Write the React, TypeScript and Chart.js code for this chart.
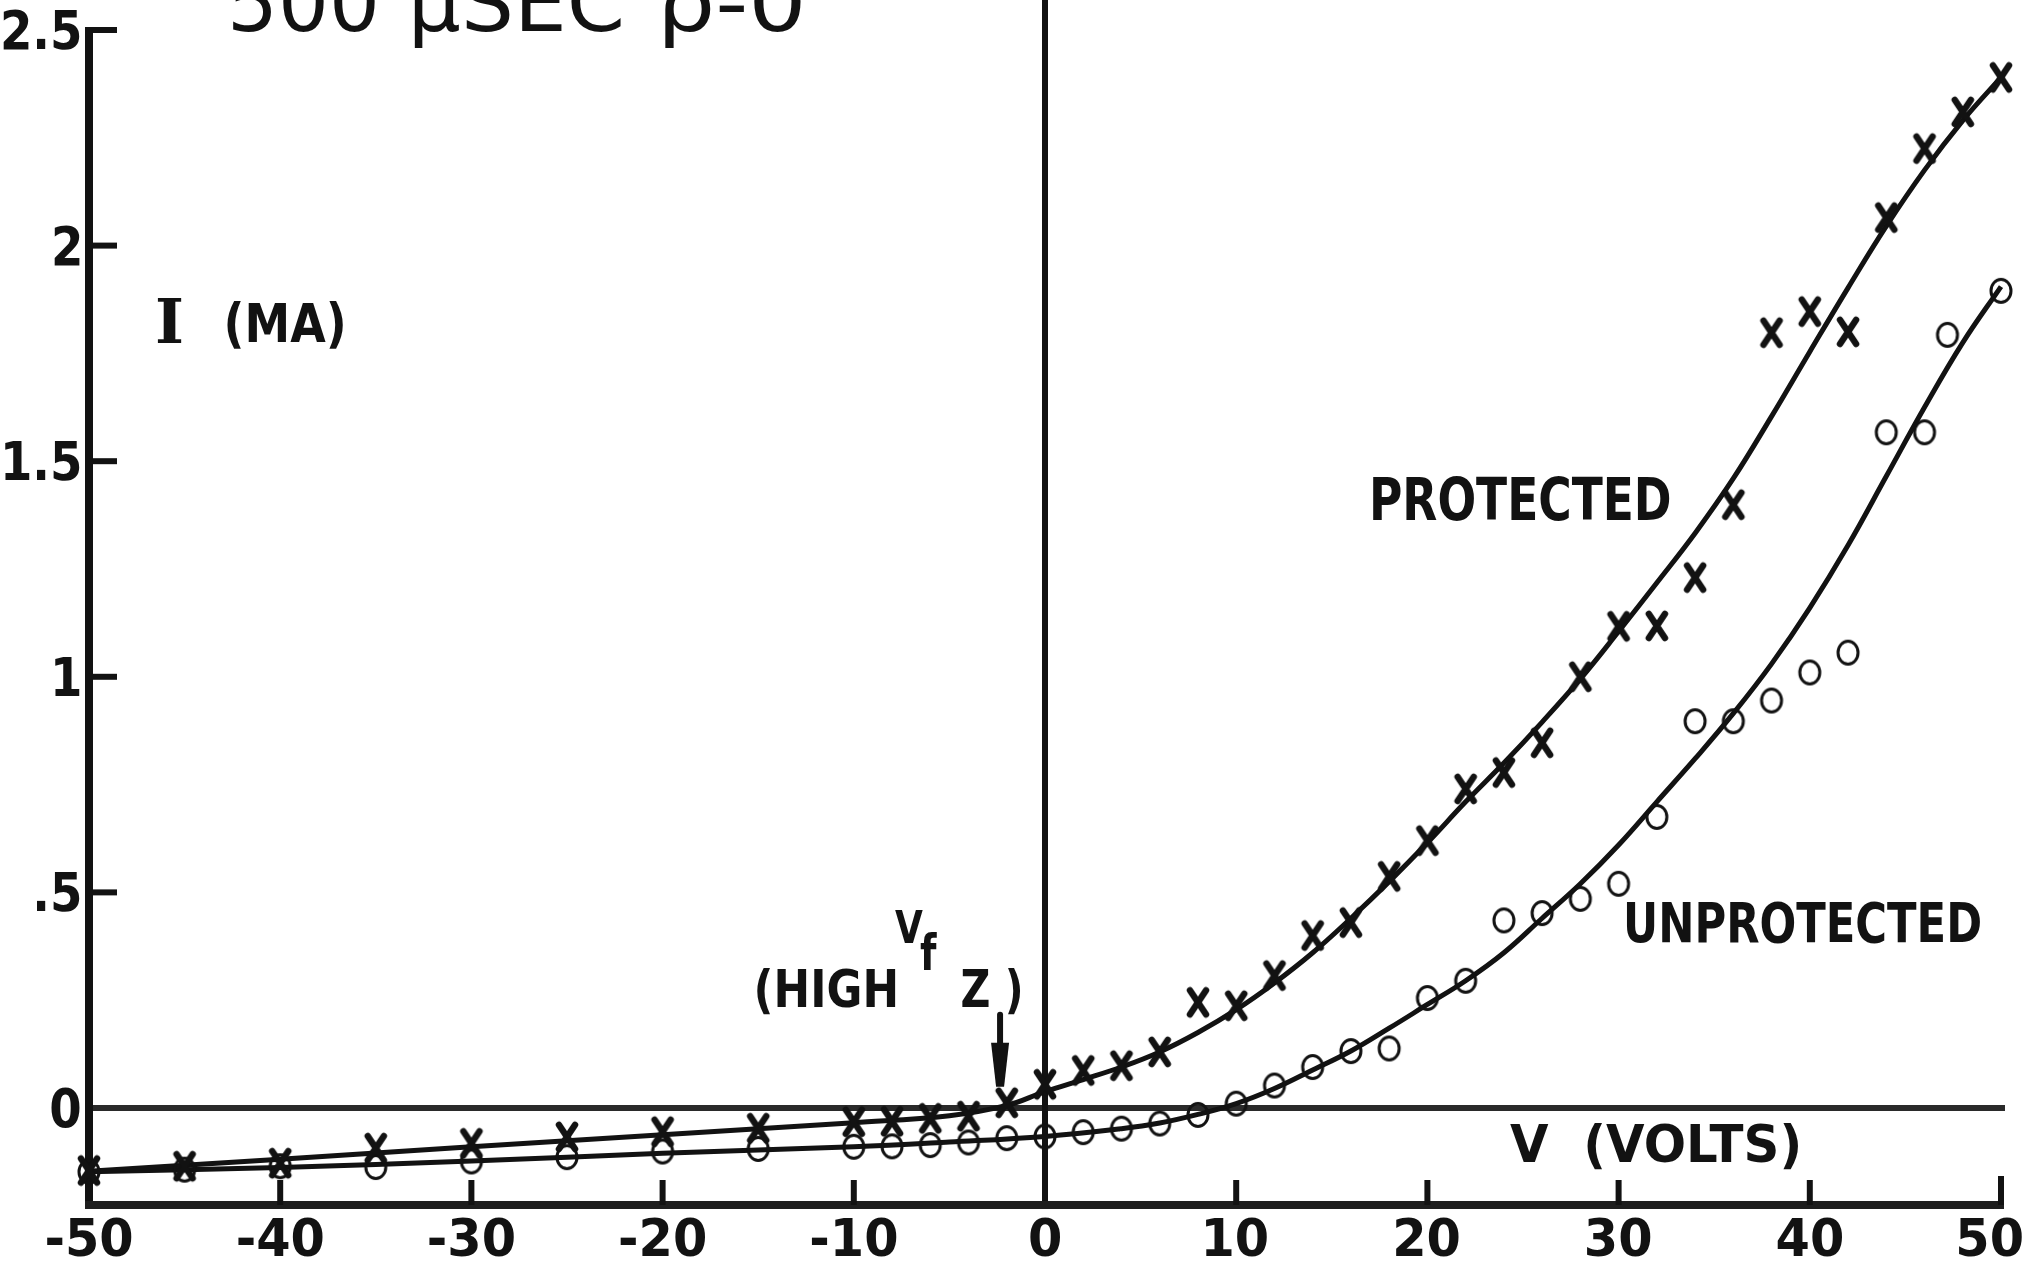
import React, { useEffect, useRef } from "react";
import { Chart, registerables } from "chart.js";

Chart.register(...registerables);

// ---------- data ----------
const xTickValues = [-50, -40, -30, -20, -10, 0, 10, 20, 30, 40, 50];
const xTickLabels = ["-50", "-40", "-30", "-20", "-10", "0", "10", "20", "30", "40", "50"];
const yTickValues = [0, 0.5, 1, 1.5, 2, 2.5];
const yTickLabels = ["0", ".5", "1", "1.5", "2", "2.5"];

const protectedVolts = [
  -50, -45, -40, -35, -30, -25, -20, -15, -10, -8, -6, -4, -2, 0, 2, 4, 6, 8, 10, 12,
  14, 16, 18, 20, 22, 24, 26, 28, 30, 32, 34, 36, 38, 40, 42, 44, 46, 48, 50,
];
const protectedCurrent = [
  -0.145, -0.135, -0.128, -0.093, -0.082, -0.067, -0.055, -0.047, -0.032, -0.031,
  -0.024, -0.019, 0.012, 0.055, 0.087, 0.098, 0.13, 0.245, 0.237, 0.307,
  0.4, 0.43, 0.537, 0.62, 0.74, 0.778, 0.847, 1.0, 1.117, 1.118,
  1.23, 1.399, 1.798, 1.847, 1.8, 2.065, 2.225, 2.31, 2.39,
];
const unprotectedVolts = [
  -50, -45, -40, -35, -30, -25, -20, -15, -10, -8, -6, -4, -2, 0, 2, 4, 6, 8, 10, 12,
  14, 16, 18, 20, 22, 24, 26, 28, 30, 32, 34, 36, 38, 40, 42, 44, 46, 47.2, 50,
];
const unprotectedCurrent = [
  -0.148, -0.143, -0.135, -0.137, -0.124, -0.114, -0.101, -0.095, -0.09, -0.089,
  -0.086, -0.08, -0.07, -0.066, -0.056, -0.048, -0.036, -0.016, 0.01, 0.052,
  0.095, 0.132, 0.138, 0.255, 0.295, 0.435, 0.452, 0.485, 0.52, 0.675,
  0.897, 0.897, 0.945, 1.01, 1.056, 1.567, 1.567, 1.793, 1.895,
];

// hand-drawn fitted curves
const protectedFitVolts = [
  -50, -40, -30, -20, -10, -5, -2, 0, 2, 4, 6, 8, 10, 12, 14, 16, 18, 20, 22, 24, 26, 28,
  30, 32, 34, 36, 38, 40, 42, 44, 46, 48, 50,
];
const protectedFitCurrent = [
  -0.147, -0.119, -0.09, -0.062, -0.034, -0.018, 0.006, 0.038, 0.066, 0.095, 0.13, 0.175,
  0.228, 0.29, 0.36, 0.44, 0.525, 0.615, 0.71, 0.8, 0.895, 0.995, 1.105, 1.218, 1.333,
  1.46, 1.604, 1.754, 1.902, 2.045, 2.175, 2.29, 2.39,
];
const unprotectedFitVolts = [
  -50, -40, -30, -20, -10, -5, 0, 4, 6, 8, 10, 12, 14, 16, 18, 20, 22, 24, 26, 28, 30, 32,
  34, 36, 38, 40, 42, 44, 46, 48, 50,
];
const unprotectedFitCurrent = [
  -0.148, -0.138, -0.123, -0.105, -0.09, -0.079, -0.066, -0.048, -0.035, -0.015, 0.01,
  0.045, 0.088, 0.132, 0.185, 0.24, 0.295, 0.36, 0.44, 0.52, 0.61, 0.71, 0.81, 0.915, 1.03,
  1.16, 1.305, 1.465, 1.625, 1.775, 1.905,
];

// ---------- styling / layout ----------
const W = 2026;
const H = 1266;
const INK = "#121212";
const SANS = "'DejaVu Sans', 'Liberation Sans', sans-serif";
const SERIF = "'DejaVu Serif', 'Liberation Serif', serif";

type Label = {
  text: string;
  v: number; // anchor in data units: left edge
  i: number; // anchor in data units: baseline
  size: number;
  width: number;
  family?: string;
  weight?: string;
};

const labels: Label[] = [
  { text: "PROTECTED", v: 17.15, i: 1.364, size: 58, width: 297 },
  { text: "UNPROTECTED", v: 30.44, i: 0.385, size: 55, width: 353 },
  { text: "V  (VOLTS)", v: 24.32, i: -0.125, size: 51, width: 288 },
  { text: "I", v: -46.44, i: 1.775, size: 62, width: 25, family: SERIF },
  { text: "(MA)", v: -42.78, i: 1.777, size: 53, width: 116 },
  { text: "(HIGH", v: -15.06, i: 0.234, size: 51, width: 138 },
  { text: "Z )", v: -4.34, i: 0.234, size: 51, width: 58 },
  { text: "V", v: -7.85, i: 0.383, size: 45, width: 28 },
  { text: "f", v: -6.54, i: 0.32, size: 49, width: 17 },
  { text: "500", v: -42.47, i: 2.497, size: 80, width: 142, weight: "normal" },
  { text: "μSEC", v: -33.0, i: 2.497, size: 80, width: 207, weight: "normal" },
  { text: "ρ-0", v: -19.87, i: 2.497, size: 80, width: 136, weight: "normal" },
];

const arrow = { v: -2.35, from: 0.216, to: 0.049 };

function drawFitted(
  ctx: CanvasRenderingContext2D,
  text: string,
  font: string,
  left: number,
  baseline: number,
  width: number
) {
  ctx.save();
  ctx.font = font;
  ctx.textAlign = "left";
  ctx.textBaseline = "alphabetic";
  const m = ctx.measureText(text);
  const w = m.actualBoundingBoxRight + m.actualBoundingBoxLeft;
  const sx = width / w;
  ctx.translate(left, baseline);
  ctx.scale(sx, 1);
  ctx.fillStyle = INK;
  ctx.fillText(text, m.actualBoundingBoxLeft, 0);
  ctx.restore();
}

function drawScaled(
  ctx: CanvasRenderingContext2D,
  text: string,
  font: string,
  cx: number,
  baseline: number,
  sx: number,
  align: "center" | "right",
  maxRight: number
) {
  ctx.save();
  ctx.font = font;
  ctx.textAlign = "left";
  const m = ctx.measureText(text);
  const w = (m.actualBoundingBoxRight + m.actualBoundingBoxLeft) * sx;
  let left = align === "center" ? cx - w / 2 : cx - w;
  if (left + w > maxRight) left = maxRight - w;
  ctx.translate(left, baseline);
  ctx.scale(sx, 1);
  ctx.fillStyle = INK;
  ctx.fillText(text, m.actualBoundingBoxLeft, 0);
  ctx.restore();
}

const framePlugin = {
  id: "frame",
  beforeDatasetsDraw(chart: any) {
    const { ctx } = chart;
    const xs = chart.scales.x;
    const ys = chart.scales.y;
    const xL = xs.getPixelForValue(xs.min);
    const xR = xs.getPixelForValue(xs.max);
    const yB = ys.getPixelForValue(ys.min);
    const yT = ys.getPixelForValue(2.5);
    const y0 = ys.getPixelForValue(0);
    const x0 = xs.getPixelForValue(0);
    ctx.save();
    ctx.lineCap = "butt";
    // zero current line
    ctx.strokeStyle = "#2a2a2a";
    ctx.lineWidth = 6;
    ctx.beginPath();
    ctx.moveTo(xL, y0);
    ctx.lineTo(xR + 4, y0);
    ctx.stroke();
    // zero voltage line
    ctx.strokeStyle = INK;
    ctx.lineWidth = 6;
    ctx.beginPath();
    ctx.moveTo(x0, 0);
    ctx.lineTo(x0, yB);
    ctx.stroke();
    // y axis
    ctx.lineWidth = 8;
    ctx.beginPath();
    ctx.moveTo(xL, yT - 3);
    ctx.lineTo(xL, yB + 3);
    ctx.stroke();
    // y ticks (inside)
    ctx.lineWidth = 6;
    yTickValues.forEach((v) => {
      if (v === 0) return;
      const y = ys.getPixelForValue(v);
      ctx.beginPath();
      ctx.moveTo(xL, y);
      ctx.lineTo(xL + 28, y);
      ctx.stroke();
    });
    // bottom axis
    ctx.strokeStyle = "#1e1e1e";
    ctx.lineWidth = 8;
    ctx.beginPath();
    ctx.moveTo(xL - 4, yB);
    ctx.lineTo(xR + 3, yB);
    ctx.stroke();
    // x ticks (inside)
    ctx.strokeStyle = INK;
    ctx.lineWidth = 6;
    xTickValues.forEach((v) => {
      if (v === xs.min || v === 0) return;
      const x = xs.getPixelForValue(v);
      ctx.beginPath();
      ctx.moveTo(x, yB);
      ctx.lineTo(x, yB - (v === xs.max ? 29 : 25));
      ctx.stroke();
    });
    ctx.restore();
  },
  afterDraw(chart: any) {
    const { ctx } = chart;
    const xs = chart.scales.x;
    const ys = chart.scales.y;
    const xL = xs.getPixelForValue(xs.min);
    const yB = ys.getPixelForValue(ys.min);
    // y tick labels
    yTickValues.forEach((v, k) => {
      const y = ys.getPixelForValue(v);
      drawScaled(ctx, yTickLabels[k], `bold 53px ${SANS}`, xL - 9, y + 19, 0.88, "right", W);
    });
    // x tick labels
    xTickValues.forEach((v, k) => {
      const x = xs.getPixelForValue(v);
      drawScaled(ctx, xTickLabels[k], `bold 52px ${SANS}`, x, yB + 51, 0.95, "center", W - 4);
    });
    // annotations
    labels.forEach((l) => {
      const font = `${l.weight || "bold"} ${l.size}px ${l.family || SANS}`;
      drawFitted(ctx, l.text, font, xs.getPixelForValue(l.v), ys.getPixelForValue(l.i), l.width);
    });
    // arrow
    const ax = xs.getPixelForValue(arrow.v);
    const a0 = ys.getPixelForValue(arrow.from);
    const a1 = ys.getPixelForValue(arrow.to);
    const headTop = a1 - 44;
    ctx.save();
    ctx.strokeStyle = INK;
    ctx.fillStyle = INK;
    ctx.lineWidth = 6;
    ctx.lineCap = "round";
    ctx.beginPath();
    ctx.moveTo(ax, a0);
    ctx.lineTo(ax, headTop + 2);
    ctx.stroke();
    ctx.beginPath();
    ctx.moveTo(ax - 9, headTop);
    ctx.lineTo(ax + 9, headTop);
    ctx.lineTo(ax + 4, a1);
    ctx.lineTo(ax - 4, a1);
    ctx.closePath();
    ctx.fill();
    ctx.restore();
  },
};

function makeCross(): HTMLCanvasElement {
  const c = document.createElement("canvas");
  c.width = 30;
  c.height = 36;
  const g = c.getContext("2d")!;
  g.strokeStyle = INK;
  g.lineWidth = 6.5;
  g.lineCap = "round";
  g.beginPath();
  g.moveTo(7, 6);
  g.lineTo(23, 30);
  g.moveTo(23, 6);
  g.lineTo(7, 30);
  g.stroke();
  return c;
}

function makeRing(): HTMLCanvasElement {
  const c = document.createElement("canvas");
  c.width = 28;
  c.height = 30;
  const g = c.getContext("2d")!;
  g.strokeStyle = INK;
  g.lineWidth = 3;
  g.beginPath();
  g.ellipse(14, 15, 10, 11.5, 0, 0, Math.PI * 2);
  g.stroke();
  return c;
}

export default function App() {
  const ref = useRef<HTMLCanvasElement | null>(null);

  useEffect(() => {
    document.body.style.margin = "0";
    document.body.style.background = "#ffffff";
    const canvas = ref.current;
    if (!canvas) return;
    const cross = makeCross();
    const ring = makeRing();
    const pts = (xs: number[], ys: number[]) => xs.map((x, k) => ({ x, y: ys[k] }));

    const chart = new Chart(canvas, {
      type: "scatter",
      data: {
        datasets: [
          {
            label: "Protected",
            data: pts(protectedVolts, protectedCurrent),
            pointStyle: cross as any,
            pointRadius: 12,
            showLine: false,
            clip: false as any,
            order: 0,
          },
          {
            label: "Unprotected",
            data: pts(unprotectedVolts, unprotectedCurrent),
            pointStyle: ring as any,
            pointRadius: 12,
            showLine: false,
            clip: false as any,
            order: 0,
          },
          {
            label: "Protected fit",
            data: pts(protectedFitVolts, protectedFitCurrent),
            showLine: true,
            pointRadius: 0,
            borderColor: INK,
            borderWidth: 5,
            tension: 0.4,
            clip: false as any,
            order: 1,
          },
          {
            label: "Unprotected fit",
            data: pts(unprotectedFitVolts, unprotectedFitCurrent),
            showLine: true,
            pointRadius: 0,
            borderColor: INK,
            borderWidth: 5,
            tension: 0.4,
            clip: false as any,
            order: 1,
          },
        ],
      },
      options: {
        animation: false,
        responsive: false,
        devicePixelRatio: 1,
        events: [],
        layout: { padding: { left: 89, right: W - 2001, top: 30, bottom: H - 1205 } },
        plugins: {
          legend: { display: false },
          tooltip: { enabled: false },
          title: { display: false },
        },
        scales: {
          x: { type: "linear", min: -50, max: 50, display: false },
          y: { type: "linear", min: -0.225, max: 2.5, display: false },
        },
      },
      plugins: [framePlugin],
    });
    return () => chart.destroy();
  }, []);

  return (
    <div style={{ position: "absolute", left: 0, top: 0, width: W, height: H, background: "#fff" }}>
      <canvas ref={ref} width={W} height={H} style={{ display: "block", width: W, height: H }} />
    </div>
  );
}
